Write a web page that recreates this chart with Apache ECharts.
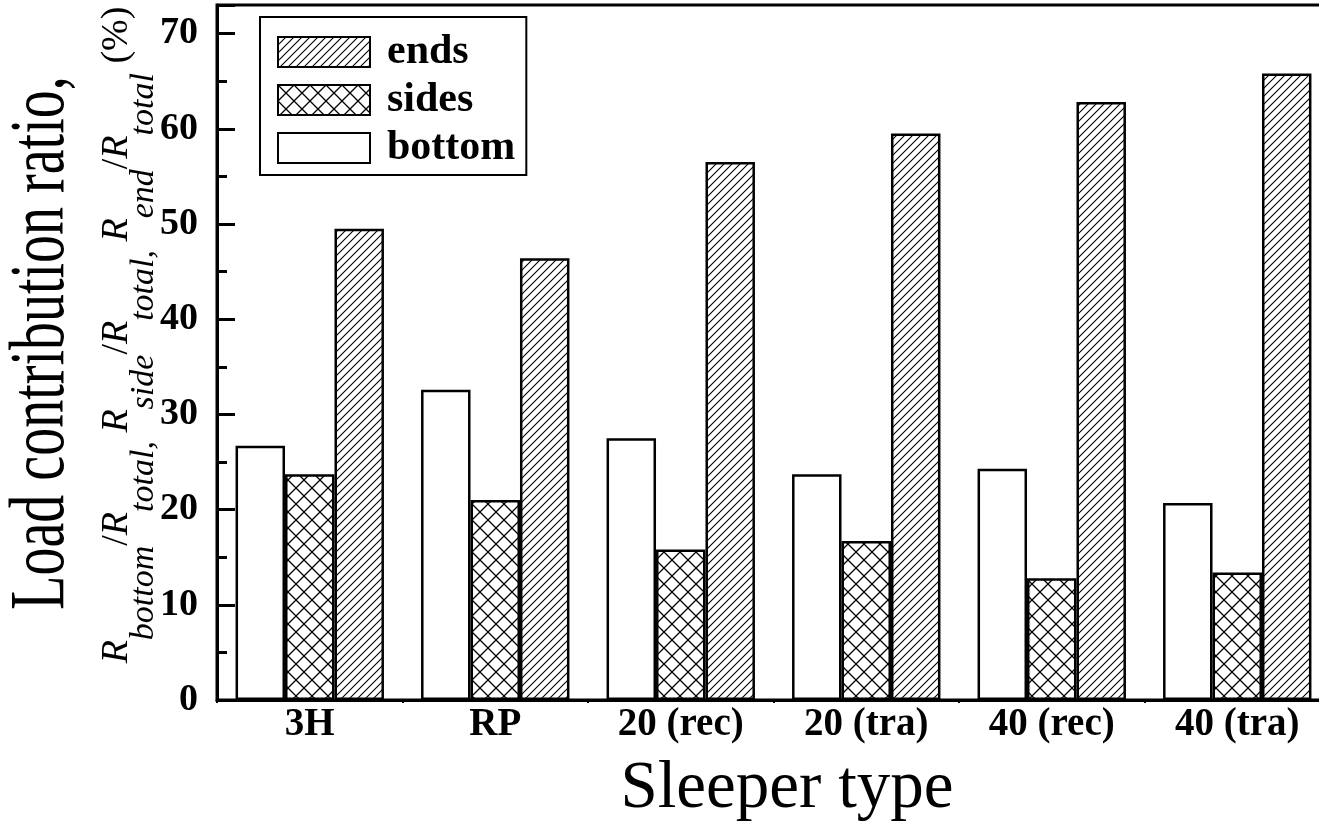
<!DOCTYPE html>
<html>
<head>
<meta charset="utf-8">
<script src="https://cdn.jsdelivr.net/npm/echarts@6/dist/echarts.min.js"></script>
<style>
html,body{margin:0;padding:0;background:#fff;}
#chart{width:1319px;height:823px;}
</style>
</head>
<body>
<div id="chart"></div>
<script>
// ---- data ----
const categories = ['3H', 'RP', '20 (rec)', '20 (tra)', '40 (rec)', '40 (tra)'];
const bottomValues = [26.7, 32.6, 27.5, 23.7, 24.3, 20.7];
const sidesValues = [23.7, 21.0, 15.8, 16.7, 12.8, 13.4];
const endsValues = [49.5, 46.4, 56.5, 59.5, 62.8, 65.8];
const seriesNames = ['bottom', 'sides', 'ends'];
const legendOrder = ['ends', 'sides', 'bottom'];
const yMin = 0, yMax = 73, yMajor = 10, yMinor = 5;

const SERIF = '"Liberation Serif", "Times New Roman", Times, serif';

function makePattern(kind) {
  const p = kind === 'cross' ? 16 : 8;
  const c = document.createElement('canvas');
  c.width = p; c.height = p;
  const g = c.getContext('2d');
  g.fillStyle = '#fff';
  g.fillRect(0, 0, p, p);
  g.strokeStyle = '#000';
  g.lineWidth = kind === 'cross' ? 1.3 : 1.1;
  g.beginPath();
  g.moveTo(-1, p + 1); g.lineTo(p + 1, -1);
  g.moveTo(-1, 1); g.lineTo(1, -1);
  g.moveTo(p - 1, p + 1); g.lineTo(p + 1, p - 1);
  if (kind === 'cross') {
    g.moveTo(-1, -1); g.lineTo(p + 1, p + 1);
    g.moveTo(p - 1, -1); g.lineTo(p + 1, 1);
    g.moveTo(-1, p - 1); g.lineTo(1, p + 1);
  }
  g.stroke();
  return { image: c, repeat: 'repeat' };
}

const fills = {
  bottom: '#ffffff',
  sides: makePattern('cross'),
  ends: makePattern('diag')
};
const valuesByName = { bottom: bottomValues, sides: sidesValues, ends: endsValues };

const chart = echarts.init(document.getElementById('chart'), null, { renderer: 'canvas' });

const option = {
  backgroundColor: '#fff',
  animation: false,
  grid: {
    left: 217, width: 1113, top: 5, bottom: 123,
    outerBoundsMode: 'none',
    containLabel: false,
    show: true, borderColor: '#000', borderWidth: 3, backgroundColor: 'transparent'
  },
  legend: {
    data: legendOrder,
    orient: 'vertical',
    left: 260, top: 17,
    padding: [14, 11, 6, 17],
    borderColor: '#000', borderWidth: 2,
    icon: 'rect',
    itemWidth: 92, itemHeight: 30, itemGap: 6,
    textStyle: { fontFamily: SERIF, fontWeight: 'bold', fontSize: 42, color: '#000', padding: [0, 0, 0, 12] },
    itemStyle: { borderColor: '#000', borderWidth: 2 }
  },
  xAxis: {
    type: 'category',
    data: categories,
    name: 'Sleeper type',
    nameLocation: 'middle',
    nameGap: 56,
    nameTextStyle: { fontFamily: SERIF, fontSize: 67, color: '#000', padding: [0, 0, 0, 27] },
    axisLine: { lineStyle: { color: '#000', width: 3 } },
    axisTick: { show: true, length: 3, lineStyle: { color: '#000', width: 2 } },
    axisLabel: { fontFamily: SERIF, fontWeight: 'bold', fontSize: 39, color: '#000', margin: 5 },
    splitLine: { show: false }
  },
  yAxis: [
    {
      type: 'value', min: yMin, max: yMax, interval: yMajor,
      axisLine: { show: true, lineStyle: { color: '#000', width: 3 } },
      axisTick: { show: true, inside: true, length: 18, lineStyle: { color: '#000', width: 3 } },
      axisLabel: {
        fontFamily: SERIF, fontWeight: 'bold', fontSize: 38, color: '#000', margin: 19,
        formatter: v => (v % yMajor === 0 ? String(v) : '')
      },
      splitLine: { show: false }
    },
    {
      type: 'value', min: yMin, max: yMax, interval: yMinor, position: 'left',
      axisLine: { show: false },
      axisTick: { show: true, inside: true, length: 10, lineStyle: { color: '#000', width: 3 } },
      axisLabel: { show: false },
      splitLine: { show: false }
    }
  ],
  series: seriesNames.map(n => ({
    name: n,
    type: 'bar',
    yAxisIndex: 0,
    data: valuesByName[n],
    barGap: '0%',
    barCategoryGap: '20%',
    itemStyle: { color: fills[n], borderColor: '#000', borderWidth: 2.5 },
    emphasis: { disabled: true }
  })),
  graphic: [
    {
      type: 'text',
      x: 43, y: 343,
      rotation: Math.PI / 2,
      scaleY: 1.38,
      style: {
        text: 'Load contribution ratio,',
        fontFamily: SERIF, fontSize: 56, fill: '#000',
        align: 'center', verticalAlign: 'middle'
      }
    },
    {
      type: 'text',
      x: 144, y: 335,
      rotation: Math.PI / 2,
      style: {
        text: '{R|R}{s|bottom}{n|/}{R|R}{s|total}{s|, }{R|R}{s|side}{n|/}{R|R}{s|total}{s|, }{R|R}{s|end}{n|/}{R|R}{s|total}{n| (%)}',
        fill: '#000',
        align: 'center', verticalAlign: 'middle',
        rich: {
          R: { fontFamily: SERIF, fontStyle: 'italic', fontSize: 38, lineHeight: 37, verticalAlign: 'top', fill: '#000' },
          n: { fontFamily: SERIF, fontSize: 38, lineHeight: 37, verticalAlign: 'top', fill: '#000' },
          s: { fontFamily: SERIF, fontStyle: 'italic', fontSize: 34, lineHeight: 92, verticalAlign: 'middle', fill: '#000' }
        }
      }
    }
  ]
};

chart.setOption(option);
</script>
</body>
</html>
